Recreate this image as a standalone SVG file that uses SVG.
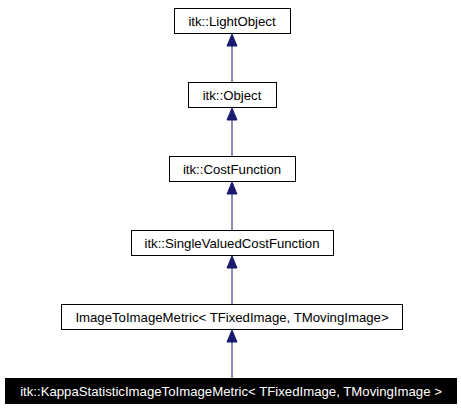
<svg xmlns="http://www.w3.org/2000/svg" width="461" height="411" viewBox="0 0 461 411">
<style>
.box{fill:#ffffff;stroke:#000000;stroke-width:1}
.cur{fill:#000000;stroke:#000000;stroke-width:1}
.lbl{font-family:"Liberation Sans",Arial,sans-serif;font-size:13.2px;text-anchor:middle;fill:#000000}
.lblw{font-family:"Liberation Sans",Arial,sans-serif;font-size:13.2px;text-anchor:middle;fill:#ffffff}
.edge{stroke:#191970;stroke-width:1;fill:none}
.head{fill:#191970;stroke:#191970;stroke-width:1}
</style>
<rect width="461" height="411" fill="#ffffff"/>
<g id="connectors">
<line class="edge" x1="232" y1="46" x2="232" y2="82"/>
<polygon class="head" points="232,34 227,46 237,46"/>
<line class="edge" x1="232" y1="120" x2="232" y2="156"/>
<polygon class="head" points="232,108 227,120 237,120"/>
<line class="edge" x1="232" y1="194" x2="232" y2="230"/>
<polygon class="head" points="232,182 227,194 237,194"/>
<line class="edge" x1="232" y1="268" x2="232" y2="304"/>
<polygon class="head" points="232,256 227,268 237,268"/>
<line class="edge" x1="232" y1="342" x2="232" y2="378"/>
<polygon class="head" points="232,330 227,342 237,342"/>
</g>
<g id="node-LightObject">
<rect class="box" x="174.5" y="8.5" width="116" height="25"/>
<text class="lbl" x="232" y="25.5">itk::LightObject</text>
</g>
<g id="node-Object">
<rect class="box" x="188.5" y="82.5" width="88" height="25"/>
<text class="lbl" x="232" y="99.5">itk::Object</text>
</g>
<g id="node-CostFunction">
<rect class="box" x="169.5" y="156.5" width="126" height="25"/>
<text class="lbl" x="232" y="173.5">itk::CostFunction</text>
</g>
<g id="node-SingleValuedCostFunction">
<rect class="box" x="131.5" y="230.5" width="202" height="25"/>
<text class="lbl" x="232" y="247.5">itk::SingleValuedCostFunction</text>
</g>
<g id="node-ImageToImageMetric">
<rect class="box" x="61.5" y="304.5" width="341" height="25"/>
<text class="lbl" x="232" y="321.5">ImageToImageMetric&lt; TFixedImage, TMovingImage&gt;</text>
</g>
<g id="node-Kappa">
<rect class="cur" x="5.5" y="378.5" width="451" height="25"/>
<text class="lblw" x="231" y="395.5">itk::KappaStatisticImageToImageMetric&lt; TFixedImage, TMovingImage &gt;</text>
</g>
</svg>
